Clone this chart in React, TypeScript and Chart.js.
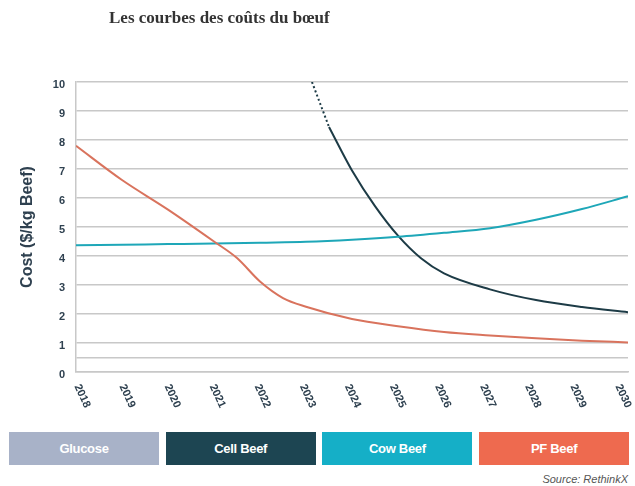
import React, { useEffect, useRef } from "react";
import { Chart, registerables } from "chart.js";

Chart.register(...registerables);

// ---------- data ----------
const years = [2018, 2019, 2020, 2021, 2022, 2023, 2024, 2025, 2026, 2027, 2028, 2029, 2030];
const yTickValues = [0, 0.5, 1, 2, 3, 4, 5, 6, 7, 8, 9, 10];

const pfYears = [2018, 2019, 2020, 2021, 2021.5, 2022, 2022.5, 2023, 2024, 2025, 2026, 2027, 2028, 2029, 2030];
const pfCosts = [7.8, 6.62, 5.6, 4.5, 3.93, 3.12, 2.55, 2.25, 1.83, 1.58, 1.38, 1.26, 1.16, 1.08, 1.02];

const cowYears = [2018, 2019, 2020, 2021, 2022, 2023, 2024, 2025, 2026, 2027, 2028, 2029, 2030];
const cowCosts = [4.37, 4.39, 4.41, 4.43, 4.46, 4.49, 4.56, 4.66, 4.8, 4.96, 5.25, 5.62, 6.06];

const cellProjYears = [2023.13, 2023.5];
const cellProjCosts = [10.0, 8.45];

const cellYears = [2023.5, 2024, 2024.5, 2025, 2025.5, 2026, 2027, 2028, 2029, 2030];
const cellCosts = [8.45, 6.95, 5.72, 4.7, 3.92, 3.4, 2.85, 2.48, 2.24, 2.06];

const legendLabels = ["Glucose", "Cell Beef", "Cow Beef", "PF Beef"];
const legendColors = ["#a8b2c8", "#1d4552", "#15afc7", "#ee6a4f"];

const titleText = "Les courbes des coûts du bœuf";
const yAxisTitle = "Cost ($/kg Beef)";
const sourceText = "Source: RethinkX";

// ---------- styles ----------
const PF_LINE = "#d9735d";
const COW_LINE = "#1ea7b8";
const CELL_LINE = "#1d3b46";
const GRID = "#c8c8c8";
const TEXT = "#2f4150";
const SANS = "'Liberation Sans', Arial, Helvetica, sans-serif";

const toPoints = (xs: number[], ys: number[]) => xs.map((x, i) => ({ x, y: ys[i] }));

const xLabelPlugin = {
  id: "rotatedYearLabels",
  afterDraw(chart: any) {
    const { ctx, chartArea } = chart;
    const xs = chart.scales.x;
    ctx.save();
    ctx.font = `bold 11px ${SANS}`;
    ctx.fillStyle = TEXT;
    ctx.textAlign = "left";
    ctx.textBaseline = "middle";
    years.forEach((yr) => {
      const px = xs.getPixelForValue(yr);
      const lx = chartArea.left + 1 + (px - chartArea.left) * 0.98;
      ctx.save();
      ctx.translate(lx, chartArea.bottom + 13);
      ctx.rotate((65 * Math.PI) / 180);
      ctx.fillText(String(yr), 0, 0);
      ctx.restore();
    });
    ctx.restore();
  },
};

function CostChart() {
  const ref = useRef<HTMLCanvasElement | null>(null);
  useEffect(() => {
    if (!ref.current) return;
    const common = {
      pointRadius: 0,
      pointHoverRadius: 0,
      borderWidth: 2,
      fill: false,
      cubicInterpolationMode: "monotone" as const,
    };
    const chart = new Chart(ref.current, {
      type: "line",
      data: {
        datasets: [
          { ...common, label: "PF Beef", data: toPoints(pfYears, pfCosts), borderColor: PF_LINE },
          { ...common, label: "Cow Beef", data: toPoints(cowYears, cowCosts), borderColor: COW_LINE },
          {
            ...common,
            label: "Cell Beef (projection)",
            data: toPoints(cellProjYears, cellProjCosts),
            borderColor: CELL_LINE,
            borderDash: [2, 2.5],
            cubicInterpolationMode: "default" as const,
            tension: 0,
          },
          { ...common, label: "Cell Beef", data: toPoints(cellYears, cellCosts), borderColor: CELL_LINE },
        ],
      },
      options: {
        responsive: false,
        animation: false,
        events: [],
        layout: { padding: { top: 82, right: 7, left: 0, bottom: 0 } },
        plugins: { legend: { display: false }, tooltip: { enabled: false }, title: { display: false } },
        scales: {
          x: {
            type: "linear",
            min: 2018,
            max: 2030,
            ticks: { display: false },
            grid: { display: false, drawTicks: false },
            border: { display: true, color: GRID, width: 1.5 },
            afterFit: (s: any) => {
              s.height = 48;
            },
          },
          y: {
            type: "linear",
            min: 0,
            max: 10,
            afterBuildTicks: (s: any) => {
              s.ticks = yTickValues.map((v) => ({ value: v }));
            },
            ticks: {
              autoSkip: false,
              padding: 11,
              labelOffset: 3,
              color: TEXT,
              font: { family: SANS, size: 11, weight: "bold" },
              callback: (v: any) => (Number.isInteger(Number(v)) ? String(v) : ""),
            },
            grid: { color: GRID, lineWidth: 1.5, drawTicks: false },
            border: { display: true, color: GRID, width: 1.5 },
            title: {
              display: true,
              text: yAxisTitle,
              color: TEXT,
              font: { family: SANS, size: 16, weight: "bold" },
              padding: { top: 18, bottom: 0 },
            },
            afterFit: (s: any) => {
              s.width = 76;
            },
          },
        },
      },
      plugins: [xLabelPlugin],
    });
    return () => chart.destroy();
  }, []);
  return (
    <canvas
      ref={ref}
      width={635}
      height={420}
      style={{ position: "absolute", left: 0, top: 0, width: 635, height: 420 }}
    />
  );
}

export default function App() {
  return (
    <div
      style={{
        position: "absolute",
        left: 0,
        top: 0,
        width: 635,
        height: 486,
        background: "#ffffff",
        overflow: "hidden",
      }}
    >
      <CostChart />
      <div
        style={{
          position: "absolute",
          left: 109,
          top: 9,
          font: "bold 17px 'Liberation Serif', 'Times New Roman', serif",
          lineHeight: "17px",
          color: "#333333",
          whiteSpace: "nowrap",
        }}
      >
        {titleText}
      </div>
      {legendLabels.map((lab, i) => (
        <div
          key={lab}
          style={{
            position: "absolute",
            left: 9 + i * 156.7,
            top: 432,
            width: 150,
            height: 33,
            background: legendColors[i],
            color: "#ffffff",
            display: "flex",
            alignItems: "center",
            justifyContent: "center",
            font: `bold 13px ${SANS}`,
            letterSpacing: "-0.3px",
          }}
        >
          {lab}
        </div>
      ))}
      <div
        style={{
          position: "absolute",
          right: 7,
          top: 472,
          font: `italic 11px ${SANS}`,
          lineHeight: "14px",
          color: "#555555",
          whiteSpace: "nowrap",
        }}
      >
        {sourceText}
      </div>
    </div>
  );
}
